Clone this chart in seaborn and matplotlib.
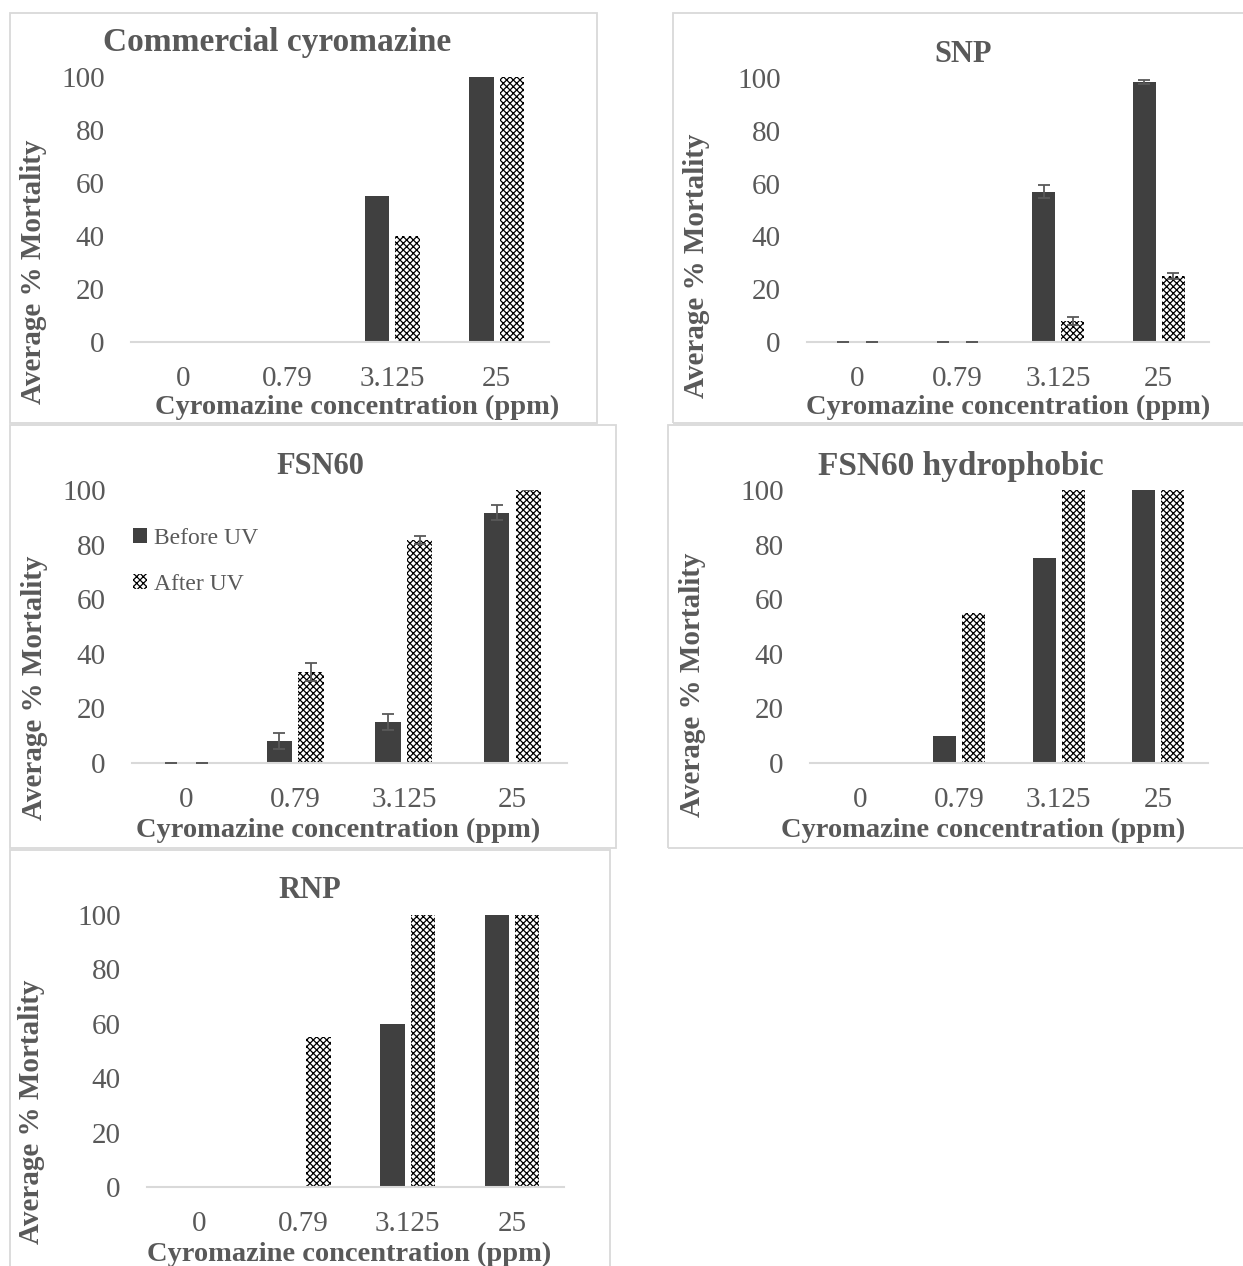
import numpy as np
import pandas as pd
import matplotlib
matplotlib.use("Agg")
import matplotlib.pyplot as plt
import seaborn as sns
from matplotlib.patches import Patch, Rectangle

# ---- data -------------------------------------------------------------
concentrations = ["0", "0.79", "3.125", "25"]
treatments = ["Before UV", "After UV"]

commercial_before = [0, 0, 55, 100]
commercial_after = [0, 0, 40, 100]

snp_before = [0, 0, 57, 98.5]
snp_before_err = [0, 0, 2.3, 0.6]
snp_after = [0, 0, 8, 25]
snp_after_err = [0, 0, 1.5, 1.3]

fsn60_before = [0, 8, 15, 91.7]
fsn60_before_err = [0, 3.0, 2.8, 2.7]
fsn60_after = [0, 33.3, 81.7, 100]
fsn60_after_err = [0, 3.3, 1.5, 0]

hydrophobic_before = [0, 10, 75, 100]
hydrophobic_after = [0, 55, 100, 100]

rnp_before = [0, 0, 60, 100]
rnp_after = [0, 55, 100, 100]

# ---- style ------------------------------------------------------------
sns.set_theme(style="white")
plt.rcParams["font.family"] = ["Liberation Serif", "DejaVu Serif"]
plt.rcParams["hatch.linewidth"] = 0.9

DARK = "#404040"
TEXT = "#595959"
GRID = "#d9d9d9"
HATCH = "xxxxx"

W, H = 1243, 1266
fig = plt.figure(figsize=(W / 100, H / 100), dpi=100)


def fx(x):
    return x / W


def fy(y):
    return 1 - y / H


def frame(x0, y0, x1, y1):
    fig.add_artist(Rectangle((fx(x0), fy(y1)), fx(x1 - x0), (y1 - y0) / H,
                             transform=fig.transFigure, fill=False,
                             edgecolor=GRID, linewidth=1.3))


def panel(box, title, tpos, tsize, xlpos, ylpos, before, after,
          before_err=None, after_err=None):
    left, right, base, top = box
    ax = fig.add_axes([fx(left), fy(base), (right - left) / W, (base - top) / H])
    ax.set_facecolor("none")
    df = pd.DataFrame({
        "conc": concentrations * 2,
        "treatment": [treatments[0]] * 4 + [treatments[1]] * 4,
        "value": list(before) + list(after),
    })
    sns.barplot(data=df, x="conc", y="value", hue="treatment",
                order=concentrations, hue_order=treatments,
                palette={"Before UV": DARK, "After UV": "white"},
                width=0.58, gap=0.2, saturation=1, linewidth=0,
                errorbar=None, legend=False, ax=ax)
    for bar in ax.containers[1]:
        bar.set_hatch(HATCH)
        bar.set_edgecolor("black")
        bar.set_linewidth(0)
    if before_err is not None:
        for cont, err in zip(ax.containers[:2], [before_err, after_err]):
            xs = [b.get_x() + b.get_width() / 2 for b in cont]
            hs = [b.get_height() for b in cont]
            ax.errorbar(xs, hs, yerr=err, fmt="none", ecolor=TEXT,
                        elinewidth=1.3, capsize=4, capthick=1.3, zorder=5)
    ax.set_xlim(-0.5, 3.5)
    ax.set_ylim(0, 100)
    ax.set_yticks([0, 20, 40, 60, 80, 100])
    ax.set_xlabel("")
    ax.set_ylabel("")
    ax.tick_params(axis="both", length=0, labelsize=21, colors=TEXT)
    ax.tick_params(axis="y", pad=19)
    ax.tick_params(axis="x", pad=17)
    for side in ("left", "right", "top"):
        ax.spines[side].set_visible(False)
    ax.spines["bottom"].set_color(GRID)
    ax.spines["bottom"].set_linewidth(1.5)
    fig.text(fx(tpos[0]), fy(tpos[1]), title, ha="center", va="center",
             fontsize=tsize, fontweight="bold", color=TEXT)
    fig.text(fx(xlpos[0]), fy(xlpos[1]), "Cyromazine concentration (ppm)",
             ha="center", va="center", fontsize=20.5, fontweight="bold", color=TEXT)
    fig.text(fx(ylpos[0]), fy(ylpos[1]), "Average % Mortality", rotation=90,
             ha="center", va="center", fontsize=21, fontweight="bold", color=TEXT)
    return ax


# panel borders
frame(10, 13, 597, 423)
frame(673, 13, 1252, 423)
frame(10, 425, 616, 848)
frame(668, 425, 1252, 848)
frame(10, 850, 610, 1275)

panel((131, 549, 342, 77), "Commercial cyromazine", (277, 43), 24,
      (357, 407), (34, 272), commercial_before, commercial_after)

panel((807, 1209, 342, 78), "SNP", (963, 54), 22,
      (1008, 407), (697, 266), snp_before, snp_after,
      snp_before_err, snp_after_err)

ax3 = panel((132, 567, 763, 490), "FSN60", (320, 467), 22,
            (338, 830), (35, 688), fsn60_before, fsn60_after,
            fsn60_before_err, fsn60_after_err)

panel((810, 1208, 763, 490), "FSN60 hydrophobic", (961, 467), 24,
      (983, 830), (693, 685), hydrophobic_before, hydrophobic_after)

panel((147, 564, 1187, 915), "RNP", (310, 890), 22,
      (349, 1254), (32, 1112), rnp_before, rnp_after)

handles = [Patch(facecolor=DARK, linewidth=0, label="Before UV"),
           Patch(facecolor="white", edgecolor="black", hatch=HATCH,
                 linewidth=0, label="After UV")]
ax3.legend(handles=handles, loc="upper left",
           bbox_to_anchor=(fx(133), fy(528)), bbox_transform=fig.transFigure,
           frameon=False, fontsize=17, labelcolor=TEXT, borderpad=0,
           borderaxespad=0, handlelength=0.6, handleheight=0.6,
           handletextpad=0.3, labelspacing=1.05)

fig.savefig("out.png", dpi=100, facecolor="white")
